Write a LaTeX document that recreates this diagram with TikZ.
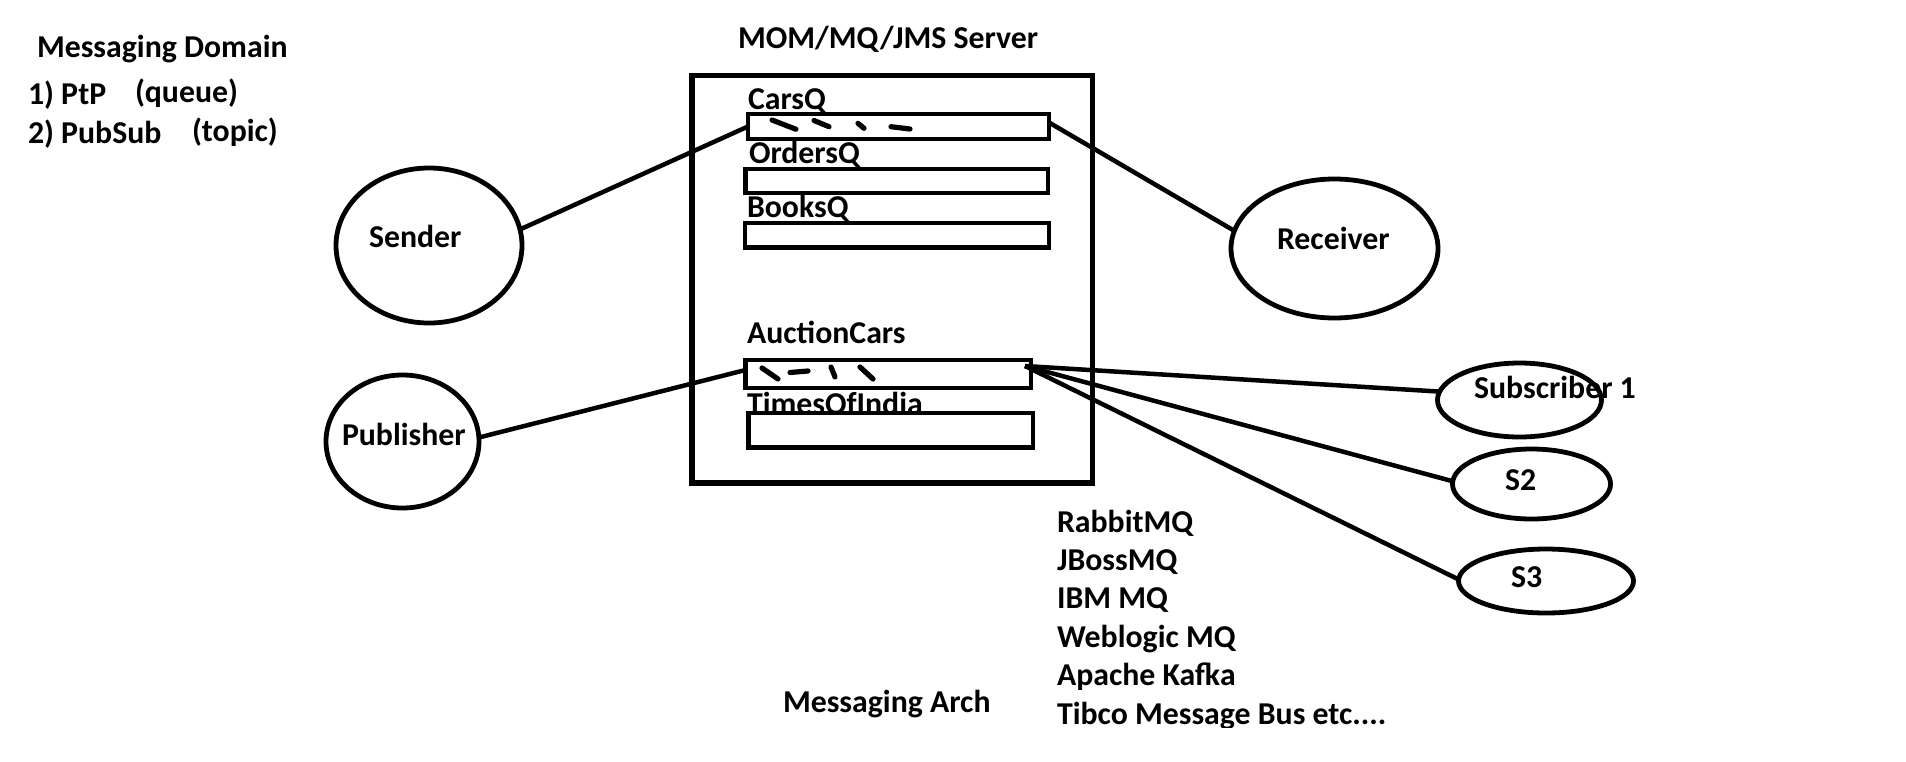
\documentclass[tikz,border=0pt]{standalone}
\usepackage{fontspec}
\setmainfont{Carlito}
\usetikzlibrary{shapes.geometric}
\begin{document}
\begin{tikzpicture}[x=1pt,y=-1pt,
  lbl/.style={font=\bfseries\fontsize{31.8pt}{38pt}\selectfont, inner sep=0pt, outer sep=0pt, anchor=base west},
  bub/.style={draw, ellipse, line width=4.8pt, inner sep=0pt, outer sep=0pt},
  qbox/.style={draw, rectangle, line width=4.8pt, inner sep=0pt, outer sep=0pt},
  srvbox/.style={draw, rectangle, line width=5.8pt, inner sep=0pt, outer sep=0pt},
  wire/.style={line width=4.5pt},
  scrib/.style={line width=5.2pt, line cap=round}]
\useasboundingbox (0,0) rectangle (1906,761);

% left legend
\node[lbl] (domain) at (37,57) {Messaging Domain};
\node[lbl] (ptp) at (28,104) {1) PtP};
\node[lbl] (queue) at (135,102) {(queue)};
\node[lbl] (pubsub) at (28,143) {2) PubSub};
\node[lbl] (topic) at (192,141) {(topic)};

% server
\node[lbl] (srvtitle) at (738,48) {MOM/MQ/JMS Server};
\node[srvbox, minimum width=400.5pt, minimum height=407.5pt] (server) at (892.25,279.25) {};

\node[lbl] (carsqt) at (748,109) {CarsQ};
\node[lbl] (ordersqt) at (749,163) {OrdersQ};
\node[lbl] (booksqt) at (747,217) {BooksQ};
\node[lbl] (auctiont) at (747,343) {AuctionCars};
\node[lbl] (timest) at (747,414) {TimesOfIndia};

\node[qbox, minimum width=301pt, minimum height=25pt] (carsq) at (898.5,126.5) {};
\node[qbox, minimum width=302.5pt, minimum height=24pt] (ordersq) at (896.75,181) {};
\node[qbox, minimum width=304pt, minimum height=24.5pt] (booksq) at (897,235.25) {};
\node[qbox, minimum width=285.5pt, minimum height=28pt] (auction) at (888.25,374) {};
\node[qbox, minimum width=284.5pt, minimum height=34.5pt] (times) at (890.75,430.25) {};

% scribbled messages
\draw[scrib] (772,120) -- (796,129.3);
\draw[scrib] (814,120.5) -- (829,126.7);
\draw[scrib] (858,123.3) -- (864,128.3);
\draw[scrib] (891,126.7) -- (910,129);
\draw[scrib] (762,368) -- (778,379);
\draw[scrib] (790,372.5) -- (808,371);
\draw[scrib] (831,367) -- (835,377);
\draw[scrib] (860,367) -- (873,379);

% clients
\node[bub, minimum width=186pt, minimum height=155pt] (sender) at (429,245.5) {};
\node[lbl] (sendert) at (369,247) {Sender};
\node[bub, minimum width=153pt, minimum height=133pt] (publisher) at (402.5,441.5) {};
\node[lbl] (publishert) at (342,445) {Publisher};
\node[bub, minimum width=207pt, minimum height=139pt] (receiver) at (1334.5,248.5) {};
\node[lbl] (receivert) at (1277,249) {Receiver};
\node[bub, minimum width=164pt, minimum height=74pt] (sub1) at (1519.5,400) {};
\node[lbl] (sub1t) at (1474,398) {Subscriber 1};
\node[bub, minimum width=158pt, minimum height=70pt] (s2) at (1531.5,484) {};
\node[lbl] (s2t) at (1505,490) {S2};
\node[bub, minimum width=175pt, minimum height=64pt] (s3) at (1546,581) {};
\node[lbl] (s3t) at (1511,587) {S3};

% connectors
\draw[wire] (sender.10) -- (carsq.west);
\draw[wire] ([yshift=4pt]carsq.east) -- (receiver.170);
\draw[wire] (publisher.3) -- ([yshift=4pt]auction.west);
\coordinate (hub) at ([xshift=-6pt,yshift=-6pt]auction.north east);
\draw[wire] (hub) -- (sub1.174);
\draw[wire] (hub) -- (s2.178);
\draw[wire] (hub) -- (s3.179);

% bottom texts
\node[lbl] (arch) at (783,712) {Messaging Arch};
\node[lbl] (rabbit) at (1057,532) {RabbitMQ};
\node[lbl] (jboss) at (1057,570) {JBossMQ};
\node[lbl] (ibm) at (1057,608) {IBM MQ};
\node[lbl] (weblogic) at (1057,647) {Weblogic MQ};
\node[lbl] (kafka) at (1057,685) {Apache Kafka};
\begin{scope}
\clip (0,0) rectangle (1906,727);
\node[lbl] (tibco) at (1057,724) {Tibco Message Bus etc....};
\end{scope}
\end{tikzpicture}
\end{document}
